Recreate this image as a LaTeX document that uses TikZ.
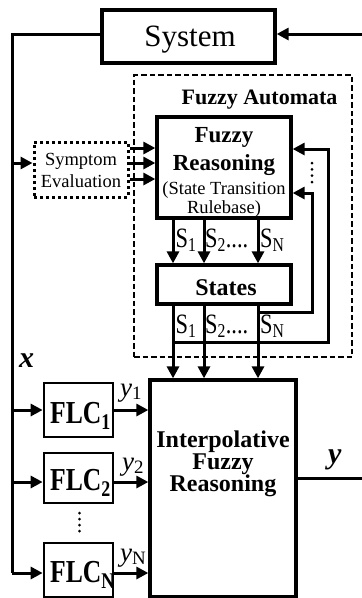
\documentclass[tikz,border=0pt]{standalone}
\usepackage{fontspec}
\setmainfont{Liberation Serif}
\usetikzlibrary{arrows.meta}
\begin{document}
\begin{tikzpicture}[x=1pt,y=-1pt,
  box/.style={draw, line width=3.3pt, inner sep=0pt},
  flcbox/.style={draw, line width=2.7pt, inner sep=0pt, minimum width=69pt},
  conn/.style={line width=3pt},
  arr/.style={conn, -{Triangle[length=12pt,width=12pt]}},
  txt/.style={anchor=base, inner sep=0pt},
  txtw/.style={anchor=base west, inner sep=0pt},
  dotc/.style={fill=black, circle, inner sep=0pt, minimum size=3pt}
]
\useasboundingbox (0,0) rectangle (362,598);
% boxes
\node[box, minimum width=173pt, minimum height=53pt] (sys) at (188.5,36.5) {};
\node[draw, line width=1.8pt, dash pattern=on 5.5pt off 3pt, inner sep=0pt,
      minimum width=218pt, minimum height=282pt] (fa) at (243,216) {};
\node[box, minimum width=134pt, minimum height=101pt] (fr) at (224,167.5) {};
\node[box, minimum width=134pt, minimum height=39pt] (st) at (224,284.5) {};
\node[draw, line width=3pt, dash pattern=on 3pt off 3pt, inner sep=0pt,
      minimum width=94pt, minimum height=55pt] (sym) at (81,169.5) {};
\node[box, minimum width=146pt, minimum height=217pt] (ip) at (223,488.5) {};
\node[flcbox, minimum height=54pt] (flc1) at (78.5,410) {};
\node[flcbox, minimum height=50pt] (flc2) at (78.5,478) {};
\node[flcbox, minimum height=54pt] (flcN) at (78.5,570) {};
% texts
\node[txt, font=\fontsize{31}{31}\selectfont] (tsys) at (190,46) {System};
\node[txt, font=\bfseries\fontsize{22}{22}\selectfont] (tfa) at (259.5,104) {Fuzzy Automata};
\node[txt, font=\bfseries\fontsize{23}{23}\selectfont] (tfr1) at (224,142) {Fuzzy};
\node[txt, font=\bfseries\fontsize{23}{23}\selectfont] (tfr2) at (224,170) {Reasoning};
\node[txt, font=\fontsize{18.5}{18.5}\selectfont] (tfr3) at (224,194) {(State Transition};
\node[txt, font=\fontsize{18.5}{18.5}\selectfont] (tfr4) at (224,213) {Rulebase)};
\node[txt, font=\fontsize{18.5}{18.5}\selectfont] (tsym1) at (81,165) {Symptom};
\node[txt, font=\fontsize{18.5}{18.5}\selectfont] (tsym2) at (81,187) {Evaluation};
\node[txt, font=\bfseries\fontsize{24}{24}\selectfont] (tst) at (226,295) {States};
\node[txt, font=\bfseries\fontsize{24}{24}\selectfont] (tip1) at (223,447) {Interpolative};
\node[txt, font=\bfseries\fontsize{24}{24}\selectfont] (tip2) at (223,469) {Fuzzy};
\node[txt, font=\bfseries\fontsize{24}{24}\selectfont] (tip3) at (223,491) {Reasoning};
\node[txtw, font=\bfseries\fontsize{32}{32}\selectfont] (tf1) at (50,423) {\scalebox{0.8}[1]{FLC\textsubscript{1}}};
\node[txtw, font=\bfseries\fontsize{32}{32}\selectfont] (tf2) at (50,490) {\scalebox{0.8}[1]{FLC\textsubscript{2}}};
\node[txtw, font=\bfseries\fontsize{32}{32}\selectfont] (tfN) at (50,582) {\scalebox{0.8}[1]{FLC\textsubscript{N}}};
% S labels
\foreach \yy/\nm in {247/a,333/b}{
  \node[txtw, font=\fontsize{28}{28}\selectfont] (s1\nm) at (175.5,\yy) {\scalebox{0.8}[1]{S\textsubscript{1}}};
  \node[txtw, font=\fontsize{28}{28}\selectfont] (s2\nm) at (205,\yy) {\scalebox{0.8}[1]{S\textsubscript{2}....}};
  \node[txtw, font=\fontsize{28}{28}\selectfont] (sN\nm) at (260,\yy) {\scalebox{0.8}[1]{S\textsubscript{N}}};
}
\node[txtw, font=\fontsize{27}{27}\selectfont] (ty1) at (120,396) {\textit{y}\textsubscript{1}};
\node[txtw, font=\fontsize{27}{27}\selectfont] (ty2) at (122,470) {\textit{y}\textsubscript{2}};
\node[txtw, font=\fontsize{27}{27}\selectfont] (tyN) at (120,561) {\textit{y}\textsubscript{N}};
\node[txtw, font=\bfseries\itshape\fontsize{30}{30}\selectfont] (tx) at (19,367) {x};
\node[txtw, font=\bfseries\itshape\fontsize{30}{30}\selectfont] (ty) at (328,463) {y};
% coordinates
\coordinate (rin) at (362,34);
\coordinate (ltop) at (12,34);
\coordinate (b0) at (12,163);
\coordinate (b1) at (12,410);
\coordinate (b2) at (12,482);
\coordinate (bN) at (12,573);
\coordinate (yout) at (362,478);
% connectors
\draw[arr] (rin) -- (sys.east |- rin);
\draw[conn, line join=miter] (sys.west |- ltop) -- (ltop) -- (bN);
\draw[arr] (b0) -- (sym.west |- b0);
\draw[arr] (b1) -- (flc1.west |- b1);
\draw[arr] (b2) -- (flc2.west |- b2);
\draw[arr] (bN) -- (flcN.west |- bN);
\foreach \yy in {148,163,179}{
  \draw[arr] (sym.east |- 0,\yy) -- (fr.west |- 0,\yy);
}
\foreach \xx in {173,204,258}{
  \draw[arr] (fr.south -| \xx,0) -- (st.north -| \xx,0);
  \draw[arr] (st.south -| \xx,0) -- (ip.north -| \xx,0);
}
\coordinate (li) at (258,312);
\coordinate (lo) at (173,342);
\draw[arr, line join=miter] (li) -| (312,193) -- (fr.east |- 0,193);
\draw[arr, line join=miter] (lo) -| (328,149) -- (fr.east |- 0,149);
\draw[arr] (flc1.east |- b1) -- (ip.west |- b1);
\draw[arr] (flc2.east |- b2) -- (ip.west |- b2);
\draw[arr] (flcN.east |- bN) -- (ip.west |- bN);
\draw[conn] (ip.east |- yout) -- (yout);
% dots
\foreach \yy in {163,169.3,175.7,182}{ \node[dotc] at (312,\yy) {}; }
\foreach \yy in {513,519,525,531}{ \node[dotc] at (79.5,\yy) {}; }
\end{tikzpicture}
\end{document}
